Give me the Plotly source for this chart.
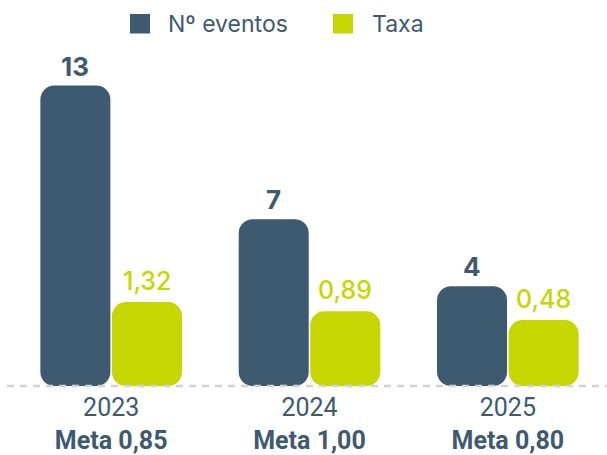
import plotly.graph_objects as go

# ---- data ----
years = ["2023", "2024", "2025"]
metas = [0.85, 1.00, 0.80]
eventos = [13, 7, 4]
taxa = [1.32, 0.89, 0.48]
series_names = ["Nº eventos", "Taxa"]

BLUE = "#3e5a70"
GREEN = "#c5d600"
FONT = "Inter"
TICKFONT = "Roboto"

W, H = 607, 455
ML, MR, MT, MB = 12, 0, 50, 69
PW, PH = W - ML - MR, H - MT - MB

BAR_W = 0.353
GAP = 0.008

# axis ranges (pixel scale of the infographic)
y1_lo = -0.48
y1_hi = y1_lo + PH / 22.29
y2_lo = -2.60
y2_hi = y2_lo + PH / 21.4

def fmt(v):
    return f"{v:.2f}".replace(".", ",")

xs = list(range(len(years)))

fig = go.Figure()
fig.add_trace(go.Bar(
    x=xs, y=[v - y1_lo for v in eventos], base=[y1_lo] * len(xs),
    name=series_names[0], yaxis="y", customdata=eventos,
    marker=dict(color=BLUE, cornerradius=14, line=dict(width=0)),
    width=BAR_W, offset=-BAR_W - GAP / 2, showlegend=False,
    hovertemplate="%{customdata}<extra></extra>",
))
fig.add_trace(go.Bar(
    x=xs, y=[v - y2_lo for v in taxa], base=[y2_lo] * len(xs),
    name=series_names[1], yaxis="y2", customdata=taxa,
    marker=dict(color=GREEN, cornerradius=14, line=dict(width=0)),
    width=BAR_W, offset=GAP / 2, showlegend=False,
    hovertemplate="%{customdata}<extra></extra>",
))

annotations = []
half = BAR_W / 2 + GAP / 2
for i, v in enumerate(eventos):
    annotations.append(dict(
        x=i - half, y=v, xref="x", yref="y", text=str(v), showarrow=False,
        yanchor="bottom", xanchor="center", yshift=2,
        font=dict(family=FONT, size=26, color=BLUE, weight=700),
    ))
for i, v in enumerate(taxa):
    annotations.append(dict(
        x=i + half, y=v, xref="x", yref="y2", text=fmt(v), showarrow=False,
        yanchor="bottom", xanchor="center", yshift=4,
        font=dict(family=FONT, size=25, color=GREEN, weight=500),
    ))

# custom legend
def px2paper(px, py):
    return (px - ML) / PW, (H - MB - py) / PH

shapes = []
leg_items = [(130, 168, BLUE, series_names[0]), (333, 372, GREEN, series_names[1])]
for sx, tx, col, name in leg_items:
    x0, y0 = px2paper(sx, 33.5)
    x1, y1 = px2paper(sx + 20, 14)
    shapes.append(dict(type="rect", xref="paper", yref="paper",
                       x0=x0, x1=x1, y0=y0, y1=y1,
                       fillcolor=col, line=dict(width=0), layer="above"))
    ax, ay = px2paper(tx - 2, 24)
    annotations.append(dict(
        x=ax, y=ay, xref="paper", yref="paper", text=name, showarrow=False,
        xanchor="left", yanchor="middle",
        font=dict(family=FONT, size=23, color=BLUE),
    ))

# dashed baseline
bx0, _ = px2paper(7, 0)
shapes.append(dict(type="line", xref="paper", yref="paper", x0=bx0, x1=1, y0=0, y1=0,
                   line=dict(color="#d3d3d3", width=2.5, dash="7px,6px"), layer="above"))

ticktext = [f"{y}<br><b>Meta {fmt(m)}</b>" for y, m in zip(years, metas)]

fig.update_layout(
    width=W, height=H,
    margin=dict(l=ML, r=MR, t=MT, b=MB, pad=0),
    paper_bgcolor="white", plot_bgcolor="white",
    barmode="overlay",
    showlegend=False,
    font=dict(family=FONT, color=BLUE),
    xaxis=dict(
        tickmode="array", tickvals=xs, ticktext=ticktext,
        range=[-0.5, len(xs) - 0.5], showgrid=False, zeroline=False, showline=False,
        ticks="", ticklabelstandoff=4, automargin=False,
        tickfont=dict(family=TICKFONT, size=25, color=BLUE),
        fixedrange=True,
    ),
    yaxis=dict(range=[y1_lo, y1_hi], visible=False, fixedrange=True),
    yaxis2=dict(range=[y2_lo, y2_hi], visible=False, overlaying="y", fixedrange=True),
    shapes=shapes,
    annotations=annotations,
)

fig.write_html("out.html", config={"displayModeBar": False},
               post_script="document.body.style.margin='0';")
